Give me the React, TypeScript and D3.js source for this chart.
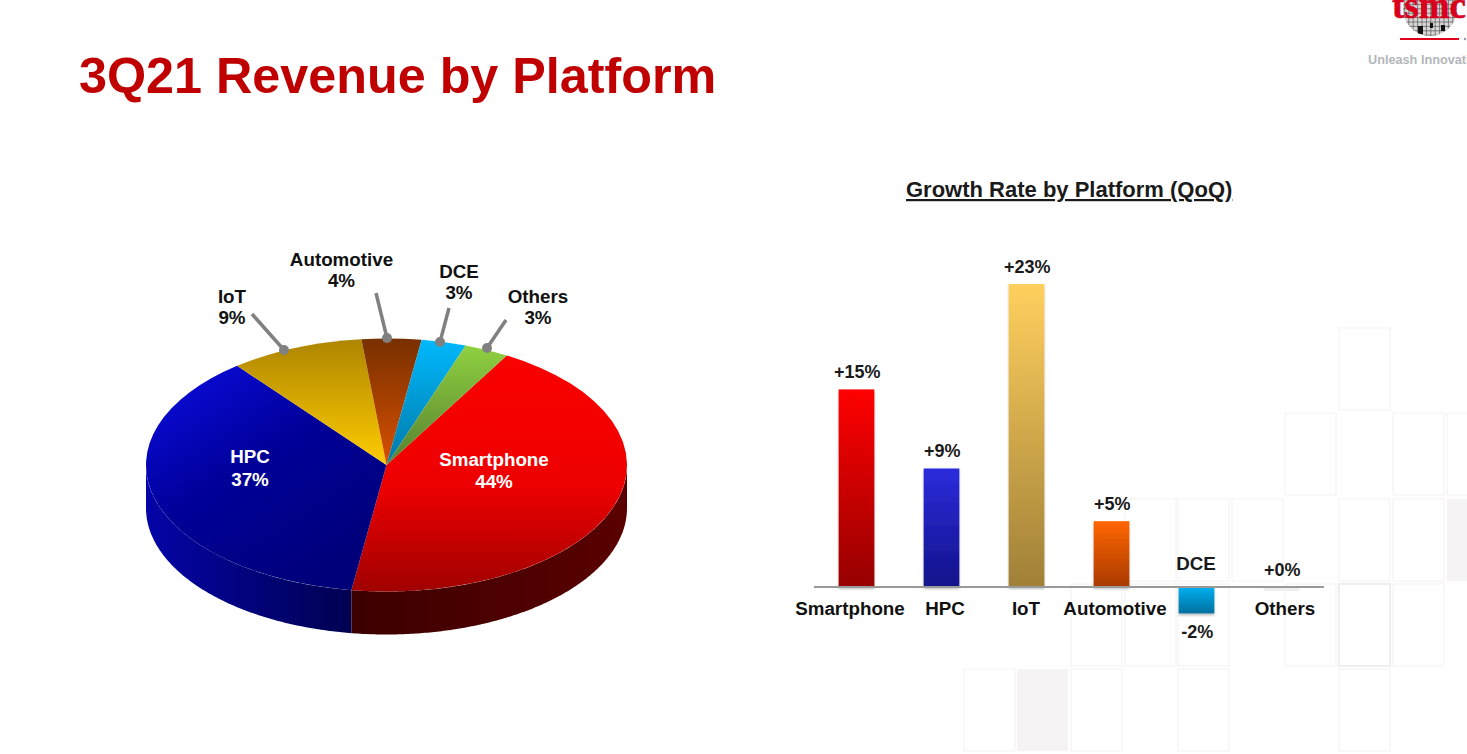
import * as d3 from 'd3';
import React from "react";

const WIDTH = 1467;
const HEIGHT = 754;

// revenue share, clockwise from Smartphone
const platforms = ["Smartphone", "HPC", "IoT", "Automotive", "DCE", "Others"];
const shareValues = [44, 37, 9, 4, 3, 3];
// QoQ growth in percent
const growthValues = [15, 9, 23, 5, -2, 0];
const growthLabels = ["+15%", "+9%", "+23%", "+5%", "-2%", "+0%"];

const topColors = [
    [["0%", "#fb0000"], ["55%", "#ee0000"], ["100%", "#a00000"]],
    [["0%", "#0c0ce6"], ["50%", "#000098"], ["100%", "#000078"]],
    [["0%", "#ad8500"], ["100%", "#ffcc00"]],
    [["0%", "#783000"], ["100%", "#d85000"]],
    [["0%", "#00b8fc"], ["100%", "#0078a8"]],
    [["0%", "#90d040"], ["100%", "#558030"]],
];
const wallColors = [
    [["0%", "#3c0000"], ["100%", "#5a0000"]],
    [["0%", "#0404a8"], ["100%", "#000050"]],
];
const barColors = [
    ["#ff0000", "#960000"],
    ["#2c2cdc", "#12128a"],
    ["#ffd05e", "#a08038"],
    ["#ff6600", "#a83a00"],
    ["#00b0f2", "#006f9e"],
    ["#ffffff", "#ffffff"],
];

// callouts around the pie: label centre, leader start, leader end on the rim
const callouts = [
    {name: "IoT", pct: "9%", x: 232, y: 296, from: [252, 314], to: [284, 350]},
    {name: "Automotive", pct: "4%", x: 341.5, y: 259, from: [376, 293], to: [387, 338]},
    {name: "DCE", pct: "3%", x: 459, y: 271, from: [449, 308], to: [440, 342]},
    {name: "Others", pct: "3%", x: 538, y: 296, from: [506, 320], to: [487, 348]},
];

// background tiles [column, row]
const TILE_X = [964, 1017, 1071, 1125, 1178, 1232, 1285, 1339, 1393, 1447];
const TILE_Y = [328, 413, 499, 584, 669];
const tiles = [
    [7, 0], [6, 1], [8, 1], [9, 1],
    [3, 2], [4, 2], [5, 2], [7, 2], [8, 2],
    [2, 3], [3, 3], [4, 3], [6, 3], [7, 3], [8, 3],
    [0, 4], [2, 4], [4, 4], [7, 4],
];
const grayTiles = [[9, 2], [1, 4]];

const FONT = "'Liberation Sans', Arial, sans-serif";
const CX = 386.5;
const CY = 465;
const RX = 240.5;
const RY = 126.5;
const DEPTH = 43;
const rad = (deg: number) => deg * Math.PI / 180;

const pieData = d3.pie<number>().sort(null)
    .startAngle(rad(30)).endAngle(rad(390))(shareValues);
const sliceArc = d3.arc<d3.PieArcDatum<number>>().innerRadius(0).outerRadius(RX);

const wallArea = d3.area<number>()
    .x(a => CX + RX * Math.sin(a))
    .y0(a => CY - RY * Math.cos(a))
    .y1(a => CY - RY * Math.cos(a) + DEPTH);

const wallPath = (d: d3.PieArcDatum<number>) => {
    const start = Math.max(d.startAngle, rad(90));
    const end = Math.min(d.endAngle, rad(270));
    return wallArea([...d3.range(start, end, 0.01), end]) || "";
};

const xBand = d3.scaleBand<string>().domain(platforms).range([814, 1324])
    .paddingInner(0.58).paddingOuter(0.29);
const yGrowth = d3.scaleLinear().domain([-2, 23]).range([613.4, 284]);
const AXIS_Y = yGrowth(0);

// bar captions are not quite centred under the bars in the slide
const captionX = [850, 945, 1026, 1115, null, 1285];

const gridLines = d3.range(1400, 1462, 4.4);
const gridRows = d3.range(0, 38, 4.4);

const Gradient = ({id, stops, horizontal, x2}: any) => (
    <linearGradient id={id} x1="0" y1="0" x2={horizontal ? 1 : (x2 || 0)} y2={horizontal ? 0 : 1}>
        {stops.map((s: string[], i: number) => <stop key={i} offset={s[0]} stopColor={s[1]}/>)}
    </linearGradient>
);

export default function App() {
    return (
        <svg width={WIDTH} height={HEIGHT} viewBox={`0 0 ${WIDTH} ${HEIGHT}`}
             style={{position: "fixed", left: 0, top: 0, background: "#fff"}} fontFamily={FONT}>
            <defs>
                {topColors.map((c, i) => <Gradient key={i} id={`top${i}`} stops={c} x2={i === 1 ? 0.7 : 0}/>)}
                {wallColors.map((c, i) => <Gradient key={i} id={`wall${i}`} stops={c} horizontal/>)}
                {barColors.map((c, i) => (
                    <Gradient key={i} id={`bar${i}`} stops={[["0%", c[0]], ["100%", c[1]]]}/>
                ))}
                <filter id="barShadow" x="-20%" y="-5%" width="140%" height="115%">
                    <feDropShadow dx="0" dy="2" stdDeviation="1" floodColor="#000" floodOpacity="0.25"/>
                </filter>
                <clipPath id="waferClip">
                    <circle cx={1430} cy={9} r={27}/>
                </clipPath>
            </defs>

            <g>
                {tiles.map(([c, r], i) => (
                    <rect key={i} x={TILE_X[c]} y={TILE_Y[r]} width={51} height={82} fill="#fff"
                          stroke={c === 7 && r === 3 ? "#e6e5e5" : "#f6f5f5"} strokeWidth={1.3}/>
                ))}
                {grayTiles.map(([c, r], i) => (
                    <rect key={i} x={TILE_X[c]} y={TILE_Y[r]} width={51} height={82} fill="#f5f3f3"/>
                ))}
            </g>

            <text x={79} y={93} fontSize={50.3} fontWeight="bold" fill="#c00000">3Q21 Revenue by Platform</text>

            <g>
                <g clipPath="url(#waferClip)">
                    <rect x={1400} y={0} width={62} height={36} fill="#d8d8d8"/>
                    {gridLines.map(x => <line key={x} x1={x} x2={x} y1={0} y2={36} stroke="#555" strokeWidth={0.7}/>)}
                    {gridRows.map(y => <line key={y} x1={1400} x2={1462} y1={y} y2={y} stroke="#555" strokeWidth={0.7}/>)}
                    <rect x={1418} y={26} width={5} height={8} fill="#111"/>
                    <rect x={1430} y={23} width={3} height={5} fill="#111"/>
                    <rect x={1441} y={25} width={4} height={6} fill="#111"/>
                </g>
                <text x={1392} y={18} fontSize={37} fontWeight="bold" fontFamily="'Liberation Serif', serif"
                      fill="#d8001c" stroke="#d8001c" strokeWidth={0.6}>tsmc</text>
                <rect x={1400} y={38} width={59} height={2} fill="#e0001c"/>
                <circle cx={1465} cy={39} r={1.2} fill="#999"/>
                <text x={1368} y={64} fontSize={12.7} fontWeight="bold" fill="#b3b6ba">Unleash Innovation</text>
            </g>

            {/* pie */}
            <g>
                {pieData.filter(d => d.endAngle > rad(90) && d.startAngle < rad(270)).map((d, i) => (
                    <path key={i} d={wallPath(d)} fill={`url(#wall${i})`}/>
                ))}
                <g transform={`translate(${CX},${CY}) scale(1,${RY / RX})`}>
                    {pieData.map((d, i) => (
                        <path key={i} d={sliceArc(d) || ""} fill={`url(#top${i})`}/>
                    ))}
                </g>
                <g fontSize={18.8} fontWeight="bold" fill="#fff" textAnchor="middle">
                    <text x={250} y={463}>{platforms[1]}</text>
                    <text x={250} y={486}>{shareValues[1]}%</text>
                    <text x={494} y={466}>{platforms[0]}</text>
                    <text x={494} y={488}>{shareValues[0]}%</text>
                </g>
                {callouts.map(c => (
                    <g key={c.name}>
                        <line x1={c.from[0]} y1={c.from[1]} x2={c.to[0]} y2={c.to[1]} stroke="#808080" strokeWidth={3.5}/>
                        <circle cx={c.to[0]} cy={c.to[1]} r={5} fill="#808080"/>
                        <text x={c.x} y={c.y + 6.5} fontSize={18.8} fontWeight="bold" fill="#111" textAnchor="middle">{c.name}</text>
                        <text x={c.x} y={c.y + 28} fontSize={18.8} fontWeight="bold" fill="#111" textAnchor="middle">{c.pct}</text>
                    </g>
                ))}
            </g>

            {/* growth bars */}
            <text x={906} y={197} fontSize={22} fontWeight="bold" fill="#1a1a1a" textDecoration="underline"
                  style={{textDecorationSkipInk: "none"}}>Growth Rate by Platform (QoQ)</text>
            <g>
                {platforms.map((p, i) => {
                    const v = growthValues[i];
                    const x = xBand(p) as number;
                    const top = yGrowth(Math.max(v, 0));
                    const bottom = yGrowth(Math.min(v, 0));
                    const cx = x + xBand.bandwidth() / 2;
                    return (
                        <g key={p}>
                            {v !== 0
                                ? <rect x={x} y={top} width={xBand.bandwidth()} height={bottom - top}
                                        fill={`url(#bar${i})`} filter="url(#barShadow)"/>
                                : <rect x={x} y={AXIS_Y} width={xBand.bandwidth()} height={4} fill="#f0efef"/>}
                            <text x={cx + 0.7} y={v < 0 ? bottom + 24.5 : top - 11} fontSize={18} fontWeight="bold"
                                  fill="#1a1a1a" textAnchor="middle">{growthLabels[i]}</text>
                            {v < 0
                                ? <text x={cx - 0.5} y={AXIS_Y - 17} fontSize={18.8} fontWeight="bold" fill="#1a1a1a" textAnchor="middle">{p}</text>
                                : <text x={captionX[i] as number} y={615} fontSize={18.8} fontWeight="bold" fill="#111" textAnchor="middle">{p}</text>}
                        </g>
                    );
                })}
                <line x1={814} x2={1324} y1={AXIS_Y} y2={AXIS_Y} stroke="#999" strokeWidth={2}/>
            </g>
        </svg>
    )
}
